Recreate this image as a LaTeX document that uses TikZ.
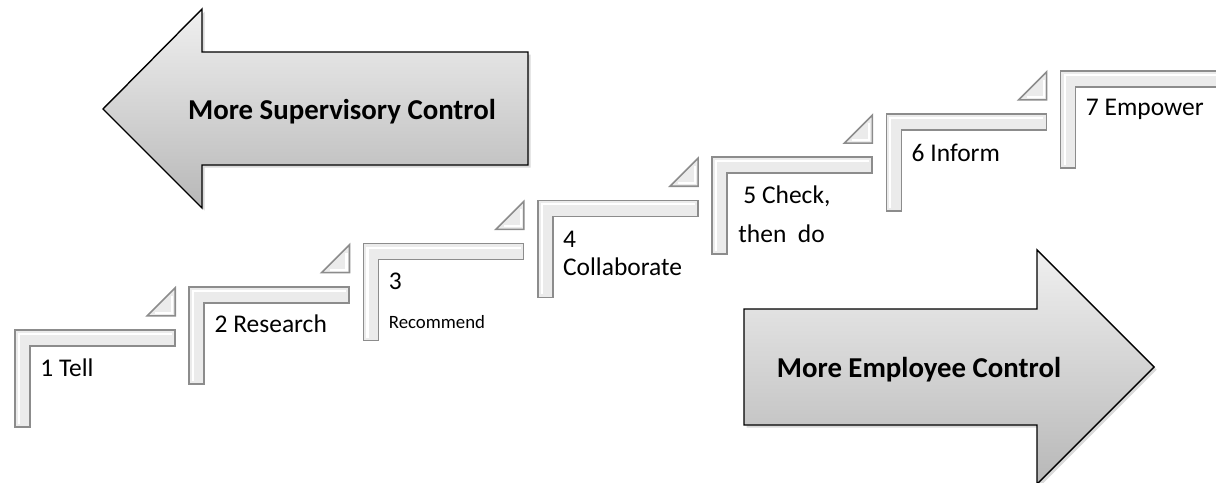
\documentclass[tikz,border=0pt]{standalone}
\usepackage{fontspec}
\setmainfont{Carlito}
\usetikzlibrary{positioning}
\usetikzlibrary{calc}
\usetikzlibrary{shadows}

\tikzset{
  bigarrow/.style={draw=black, line width=0.8pt, top color=black!6, bottom color=black!28,
    drop shadow={opacity=0.3, shadow xshift=1.5pt, shadow yshift=-1.5pt}},
  stepbar/.style={draw=black!45, line width=0.9pt, fill=black!8},
  stepglow/.style={draw=white, line width=1.2pt},
  steptext/.style={anchor=base west, inner sep=0pt, font=\fontsize{14.5}{17}\selectfont},
  armtext/.style={anchor=base, inner sep=0pt, font=\fontsize{16.4}{19}\selectfont\bfseries},
}

\begin{document}
\begin{tikzpicture}[x=0.02cm, y=-0.02cm, node distance=0.864cm and 3.486cm]
\useasboundingbox (0,0) rectangle (1216,483);

% the two big arrows
\draw[bigarrow] (528,52) -- (202,52) -- (202,9) -- (103,109) -- (202,208) -- (202,165) -- (528,165) -- cycle;
\node[armtext] (sup) at (342,119) {More Supervisory Control};
\draw[bigarrow] (744,309) -- (1037,309) -- (1037,250) -- (1154,367) -- (1037,484) -- (1037,425) -- (744,425) -- cycle;
\node[armtext] (emp) at (919,377) {More Employee Control};

% corners of the steps
\coordinate (s1) at (15,330);
\coordinate[above right=of s1] (s2);
\coordinate[above right=of s2] (s3);
\coordinate[above right=of s3] (s4);
\coordinate[above right=of s4] (s5);
\coordinate[above right=of s5] (s6);
\coordinate[above right=of s6] (s7);

\foreach \i in {1,...,7}{
  \begin{scope}[shift={(s\i)}]
    \draw[stepbar] (0,0) -- (160,0) -- (160,16) -- (15,16) -- (15,97) -- (0,97) -- cycle;
    \draw[stepglow] (4,94) -- (4,4) -- (157,4);
  \end{scope}
}
\foreach \i in {2,...,7}{
  \begin{scope}[shift={(s\i)}]
    \draw[stepbar] (-42,29) -- (-14,29) -- (-14,1) -- cycle;
    \draw[stepglow] (-34,26) -- (-17,26) -- (-17,9);
  \end{scope}
}

% labels
\node[steptext] (t1) at ($(s1)+(25,46)$) {1 Tell};
\node[steptext] (t2) at ($(s2)+(25,46)$) {2 Research};
\node[steptext] (t3) at ($(s3)+(25,46)$) {3};
\node[steptext, font=\fontsize{10.7}{13}\selectfont] (t3b) at ($(s3)+(25,85)$) {Recommend};
\node[steptext] (t4) at ($(s4)+(25,47)$) {4};
\node[steptext] (t4b) at ($(s4)+(25,75)$) {Collaborate};
\node[steptext] (t5) at ($(s5)+(31,46)$) {5 Check,};
\node[steptext] (t5b) at ($(s5)+(26,85)$) {then\ \ do};
\node[steptext] (t6) at ($(s6)+(25,47)$) {6 Inform};
\node[steptext] (t7) at ($(s7)+(25,45)$) {7 Empower};
\end{tikzpicture}
\end{document}
